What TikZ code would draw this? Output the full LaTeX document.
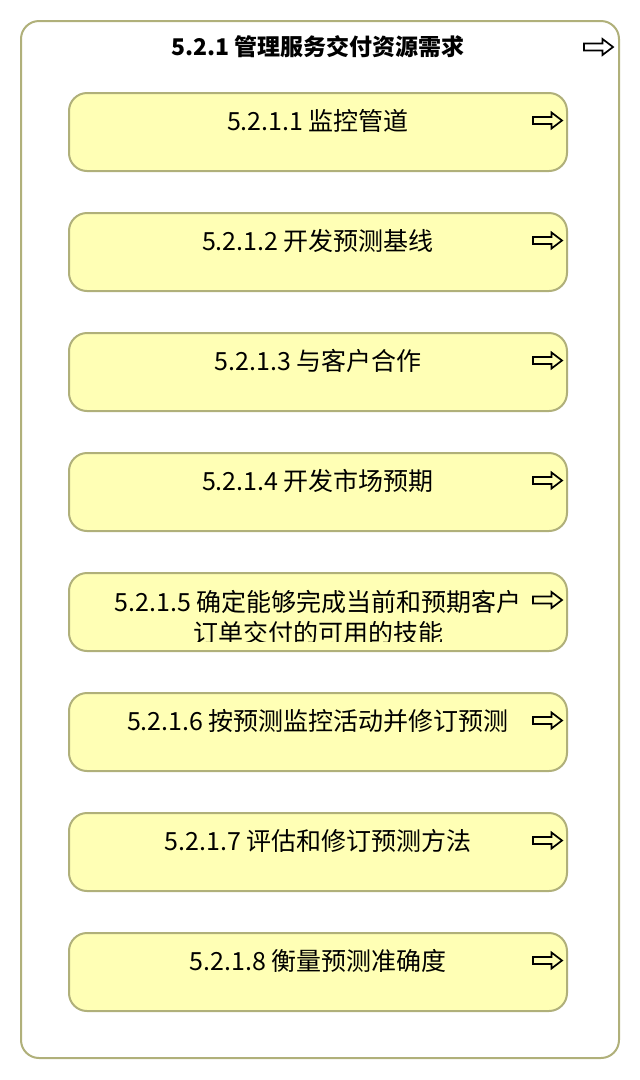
\documentclass[tikz,border=0pt]{standalone}
\usepackage{fontspec}
\setmainfont{Noto Sans CJK SC}
\definecolor{olive}{RGB}{176,176,122}
\definecolor{paleyellow}{RGB}{255,255,181}
\begin{document}
\begin{tikzpicture}[x=1pt,y=-1pt,
  outerbox/.style={draw=olive, line width=2pt, fill=white, rounded corners=18pt, minimum width=598pt, minimum height=1037pt, inner sep=0pt},
  stepbox/.style={draw=olive, line width=2pt, fill=paleyellow, rounded corners=18pt, minimum width=498pt, minimum height=78pt, inner sep=0pt},
  boxtext/.style={font=\fontsize{25}{31}\selectfont, inner sep=0pt, align=center},
  titletext/.style={font=\bfseries\fontsize{23}{28}\selectfont, inner sep=0pt},
  goarrow/.pic={\draw[line width=1.7pt, line join=miter] (-14,-3.5) -- (4.5,-3.5) -- (4.5,-8) -- (15,0) -- (4.5,8) -- (4.5,3.5) -- (-14,3.5) -- cycle;}
]
\useasboundingbox (0,0) rectangle (640,1080);
\node[outerbox] (outer) at (320,539.5) {};
\node[titletext] (title) at (318,47) {5.2.1 管理服务交付资源需求};
\pic (ta) at (598,47) {goarrow};
\foreach \i/\t in {1/{5.2.1.1 监控管道},2/{5.2.1.2 开发预测基线},3/{5.2.1.3 与客户合作},4/{5.2.1.4 开发市场预期},6/{5.2.1.6 按预测监控活动并修订预测},7/{5.2.1.7 评估和修订预测方法},8/{5.2.1.8 衡量预测准确度}}{
  \pgfmathsetmacro\top{93+120*(\i-1)}
  \node[stepbox] (b\i) at (318,\top+39) {};
  \node[boxtext] (t\i) at (318,\top+28) {\t};
  \pic (a\i) at (547,\top+27.5) {goarrow};
}
\node[stepbox] (b5) at (318,612) {};
\begin{scope}
  \clip (69,575) rectangle (567,641);
  \node[boxtext] (t5) at (318,617) {5.2.1.5 确定能够完成当前和预期客户\\订单交付的可用的技能};
\end{scope}
\pic (a5) at (547,600) {goarrow};
\end{tikzpicture}
\end{document}
